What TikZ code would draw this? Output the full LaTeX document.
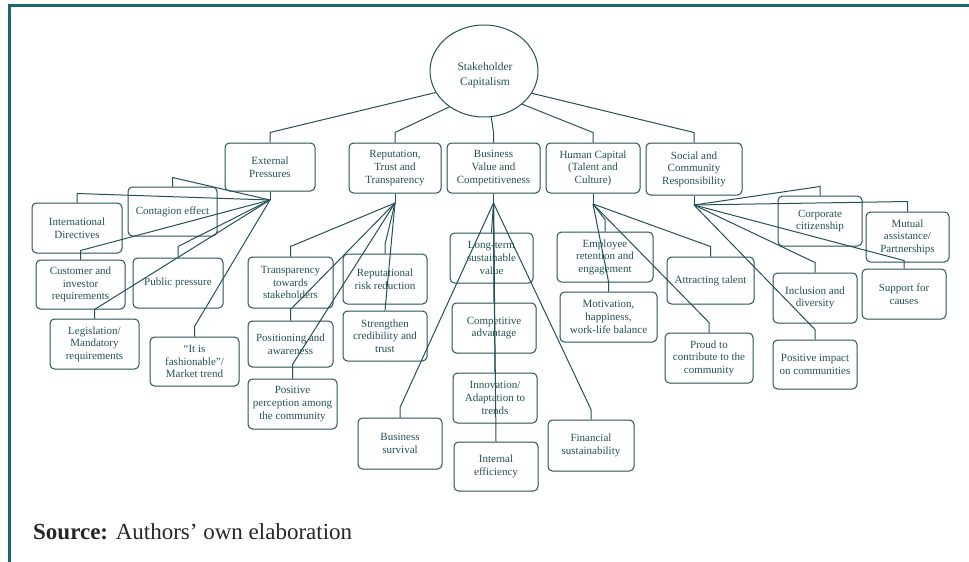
\documentclass[tikz,border=0pt]{standalone}
\usepackage{fontspec}
\setmainfont{Liberation Serif}
\usetikzlibrary{shapes.geometric}
\definecolor{ink}{RGB}{36,82,89}
\definecolor{frame}{RGB}{24,104,108}
\newcommand{\boxfont}{\fontsize{11}{12.6}\selectfont}
\newcommand{\rootfont}{\fontsize{11.5}{14.5}\selectfont}
\newcommand{\srcfont}{\fontsize{23}{26}\selectfont}
\newcommand{\branch}[3]{\draw[conn] (#1) -- ([yshift=#3pt]#2.north) -- (#2.north);}
\tikzset{
  box/.style={draw=ink, rounded corners=4.5pt, line width=1pt, align=center, text=ink, font=\boxfont, inner sep=0pt},
  conn/.style={draw=ink, line width=1pt},
}
\begin{document}
\begin{tikzpicture}[x=1pt,y=-1pt]
\useasboundingbox (0,0) rectangle (969,562);
\fill[white] (0,0) rectangle (969,562);
% frame
\draw[frame, line width=3pt] (9.5,562) -- (9.5,5.5) -- (969,5.5);

% root
\node[draw=ink, ellipse, line width=1pt, minimum width=108pt, minimum height=92pt, inner sep=0pt] (root) at (484,71) {};
\node[align=center, text=ink, font=\rootfont, inner sep=0pt] (roottext) at (485,75) {Stakeholder\\Capitalism};

% categories
\node[box, minimum width=90pt, minimum height=48pt] (ext) at (270,167) {External\\Pressures};
\node[box, minimum width=92pt, minimum height=50pt] (rep) at (395,168) {Reputation,\\Trust and\\Transparency};
\node[box, minimum width=93pt, minimum height=50pt] (bus) at (493.5,168) {Business\\Value and\\Competitiveness};
\node[box, minimum width=94pt, minimum height=50pt] (hum) at (593,168) {Human Capital\\(Talent and\\Culture)};
\node[box, minimum width=96pt, minimum height=52pt] (soc) at (694,169) {Social and\\Community\\Responsibility};

\coordinate (exthub) at (270,200);
\coordinate (rephub) at (395,203);
\coordinate (bushub) at (493.5,203);
\coordinate (humhub) at (593,204);
\coordinate (sochub) at (694,205);

% external pressures children
\node[box, minimum width=89pt, minimum height=49pt] (contag) at (172.5,211.5) {Contagion effect};
\node[box, minimum width=90pt, minimum height=50pt] (intl) at (77,228) {International\\Directives};
\node[box, minimum width=89pt, minimum height=49pt] (cust) at (80.5,284.5) {Customer and\\investor\\requirements};
\node[box, minimum width=90pt, minimum height=50pt] (pub) at (178,283) {Public pressure};
\node[box, minimum width=89pt, minimum height=50pt] (legis) at (94.5,344) {Legislation/\\Mandatory\\requirements};
\node[box, minimum width=89pt, minimum height=49pt] (fash) at (194.5,361.5) {“It is\\fashionable”/\\Market trend};

% reputation children
\node[box, minimum width=85pt, minimum height=51pt] (transp) at (290.5,282.5) {Transparency\\towards\\stakeholders};
\node[box, minimum width=84pt, minimum height=50pt] (risk) at (385,279) {Reputational\\risk reduction};
\node[box, minimum width=84pt, minimum height=50pt] (streng) at (385,336) {Strengthen\\credibility and\\trust};
\node[box, minimum width=85pt, minimum height=46pt] (posit) at (290.5,344) {Positioning and\\awareness};
\node[box, minimum width=89pt, minimum height=50pt] (perc) at (292.5,404) {Positive\\perception among\\the community};

% business children
\node[box, minimum width=83pt, minimum height=50pt] (longt) at (491.5,258) {Long-term\\sustainable\\value};
\node[box, minimum width=84pt, minimum height=50pt] (comp) at (494,328) {Competitive\\advantage};
\node[box, minimum width=84pt, minimum height=50pt] (innov) at (495,398) {Innovation/\\Adaptation to\\trends};
\node[box, minimum width=84pt, minimum height=49pt] (intern) at (496,466.5) {Internal\\efficiency};
\node[box, minimum width=84pt, minimum height=51pt] (surv) at (400,443.5) {Business\\survival};
\node[box, minimum width=86pt, minimum height=51pt] (fin) at (591,445.5) {Financial\\sustainability};

% human capital children
\node[box, minimum width=96pt, minimum height=50pt] (empl) at (605,257) {Employee\\retention and\\engagement};
\node[box, minimum width=97pt, minimum height=50pt] (motiv) at (608.5,317) {Motivation,\\happiness,\\work-life balance};
\node[box, minimum width=87pt, minimum height=47pt] (attr) at (710.5,280.5) {Attracting talent};
\node[box, minimum width=88pt, minimum height=50pt] (proud) at (709,358) {Proud to\\contribute to the\\community};

% social children
\node[box, minimum width=84pt, minimum height=50pt] (corp) at (820,221) {Corporate\\citizenship};
\node[box, minimum width=83pt, minimum height=50pt] (mutual) at (907.5,237) {Mutual\\assistance/\\Partnerships};
\node[box, minimum width=84pt, minimum height=50pt] (supp) at (904,294) {Support for\\causes};
\node[box, minimum width=84pt, minimum height=50pt] (incl) at (815,298) {Inclusion and\\diversity};
\node[box, minimum width=84pt, minimum height=49pt] (posimp) at (815,364.5) {Positive impact\\on communities};

% root connectors
\draw[conn] (root.204) -- ([yshift=10pt]ext.north) -- (ext.north);
\draw[conn] (root.226) -- ([yshift=10pt]rep.north) -- (rep.north);
\draw[conn] (root.279) -- ([yshift=10pt]bus.north) -- (bus.north);
\draw[conn] (root.319) -- ([yshift=10pt]hum.north) -- (hum.north);
\draw[conn] (root.335) -- ([yshift=10pt]soc.north) -- (soc.north);

% hub stems
\draw[conn] (ext.south) -- (exthub);
\draw[conn] (rep.south) -- (rephub);
\draw[conn] (bus.south) -- (bushub);
\draw[conn] (hum.south) -- (humhub);
\draw[conn] (soc.south) -- (sochub);

% branches
\branch{exthub}{contag}{9}
\branch{exthub}{intl}{9}
\branch{exthub}{cust}{9}
\branch{exthub}{pub}{11}
\branch{exthub}{legis}{9}
\branch{exthub}{fash}{10}

\branch{rephub}{transp}{10}
\branch{rephub}{risk}{9}
\draw[conn] (rephub) -- (streng.north);
\branch{rephub}{posit}{11}
\branch{rephub}{perc}{14}

\draw[conn] (bushub) -- (longt.north);
\draw[conn] (bushub) -- (comp.north);
\draw[conn] (bushub) -- (innov.north);
\draw[conn] (bushub) -- (intern.north);
\branch{bushub}{surv}{10}
\branch{bushub}{fin}{10}

\branch{humhub}{empl}{12}
\branch{humhub}{motiv}{10}
\branch{humhub}{attr}{10}
\branch{humhub}{proud}{10}

\branch{sochub}{corp}{9}
\branch{sochub}{mutual}{10}
\branch{sochub}{supp}{8}
\branch{sochub}{incl}{10}
\branch{sochub}{posimp}{10}

% source
\node[anchor=base west, font=\srcfont, text=black!85, inner sep=0pt] (src) at (33,539) {\textbf{Source:} Authors’ own elaboration};
\end{tikzpicture}
\end{document}
